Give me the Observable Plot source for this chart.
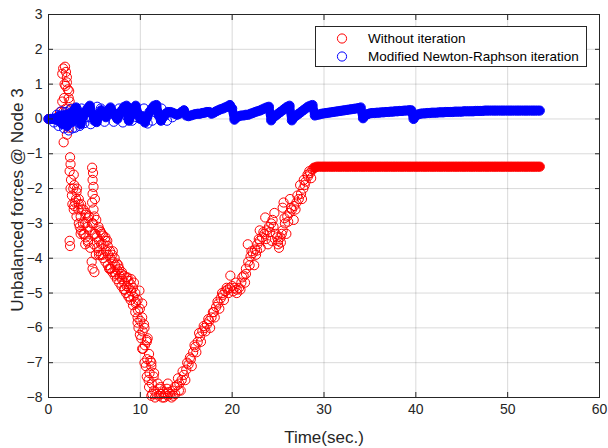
<!DOCTYPE html>
<html><head><meta charset="utf-8">
<script src="https://cdn.jsdelivr.net/npm/d3@7"></script>
<script src="https://cdn.jsdelivr.net/npm/@observablehq/plot@0.6"></script>
<style>
body{margin:0;background:#fff;}
#wrap{position:relative;width:608px;height:448px;font-family:Arial,"Liberation Sans",Helvetica,sans-serif;}
#legend{position:absolute;left:315px;top:26px;}
</style></head>
<body><div id="wrap"></div>
<script>
const xTicks = [0,10,20,30,40,50,60];
const yTicks = [-8,-7,-6,-5,-4,-3,-2,-1,0,1,2,3];
const seriesNames = ["Without iteration","Modified Newton-Raphson iteration"];
const step = 0.25; // sampling interval of the listed values (sec.)

const blueV = [0,0,0,0.02, -0.05,0.1,-0.15,0.12, -0.2,0.15,-0.1,0.25, 0.33,0.1,-0.15,0.05,
0.2,0.3,0.38,0.15, -0.05,-0.09,0.1,0.25, 0.15,0.05,0.2,0.33, 0.2,0.1,0,0.15,
0.25,0.35,0.38,-0.05, 0.1,0.3,0.38,0.15, 0,0.08,-0.1,0.05, 0.2,0.3,0.38,0.4,
0.1,-0.05,0.05,0.15, 0.2,0.2,0.18,0.15, 0.12,0.15,0.2,0.25, 0.1,0.08,0.1,0.12,
0.14,0.15,0.15,0.17, 0.18,0.2,0.2,0.15, 0.18,0.22,0.25,0.28, 0.3,0.33,0.36,0.4,
0.3,-0.02,0.05,0.08, 0.1,0.1,0.12,0.12, 0.15,0.17,0.2,0.22, 0.24,0.27,0.3,0.33,
0.35,-0.04,0.05,0.1, 0.15,0.2,0.25,0.3, 0.35,0.38,-0.04,0.05, 0.1,0.15,0.2,0.25,
0.3,0.35,0.38,0.4, 0.1,0.12,0.13,0.15, 0.16,0.17,0.18,0.19, 0.2,0.21,0.22,0.23,
0.24,0.25,0.26,0.27, 0.28,0.29,0.3,0.31, 0.33,0.02,0.1,0.14, 0.16,0.17,0.17,0.18,
0.18,0.19,0.19,0.2, 0.2,0.21,0.21,0.22, 0.22,0.23,0.23,0.24, 0.24,0.25,0.25,0,
0.1,0.13,0.15,0.16, 0.16,0.17,0.17,0.18, 0.18,0.18,0.19,0.19, 0.19,0.2,0.2,0.2,
0.2,0.21,0.21,0.21, 0.21,0.22,0.22,0.22, 0.22,0.22,0.23,0.23, 0.23,0.23,0.24,0.24,
0.24,0.24,0.24,0.24, 0.24,0.24,0.24,0.24, 0.24,0.24,0.24,0.24, 0.24,0.24,0.24,0.24,
0.24,0.24,0.24,0.24, 0.24,0.24,0.24];

const redV = [0,0,0,0, 0.05,0.2,0.5,1.0, 1.2,0.8,0.3,-1.6, -2.3,-2.6,-2.8,-3.0,
-3.0,-3.1,-3.2,-3.0, -3.3,-3.4,-3.5,-3.6, -3.6,-3.8,-3.9,-4.0, -4.1,-4.2,-4.35,-4.5,
-4.6,-4.7,-4.8,-4.85, -4.95,-5.1,-5.25,-5.5, -5.8,-6.1,-6.5,-6.9, -7.3,-7.6,-7.8,-7.9,
-7.95,-7.9,-7.85,-7.9, -7.95,-7.9,-7.8,-7.7, -7.65,-7.6,-7.5,-7.35, -7.2,-7.05,-6.9,-6.7,
-6.55,-6.4,-6.25,-6.1, -6.0,-5.9,-5.8,-5.7, -5.55,-5.4,-5.3,-5.15, -5.05,-4.95,-4.9,-4.85,
-4.8,-4.85,-4.9,-4.85, -4.7,-4.5,-4.3,-4.1, -3.95,-3.85,-3.75,-3.6, -3.5,-3.4,-3.3,-3.2,
-3.1,-3.0,-3.1,-3.3, -3.5,-3.4,-3.2,-3.0, -2.8,-2.7,-2.6,-2.5, -2.4,-2.3,-2.15,-2.0,
-1.8,-1.65,-1.55,-1.45, -1.4,
-1.37,-1.37,-1.37,-1.37,-1.37,-1.37,-1.37,-1.37,-1.37,-1.37,-1.37,-1.37,-1.37,-1.37,
-1.37,-1.37,-1.37,-1.37,-1.37,-1.37,-1.37,-1.37,-1.37,-1.37,-1.37,-1.37,-1.37,-1.37,
-1.37,-1.37,-1.37,-1.37,-1.37,-1.37,-1.37,-1.37,-1.37,-1.37,-1.37,-1.37,-1.37,-1.37,
-1.37,-1.37,-1.37,-1.37,-1.37,-1.37,-1.37,-1.37,-1.37,-1.37,-1.37,-1.37,-1.37,-1.37,
-1.37,-1.37,-1.37,-1.37,-1.37,-1.37,-1.37,-1.37,-1.37,-1.37,-1.37,-1.37,-1.37,-1.37,
-1.37,-1.37,-1.37,-1.37,-1.37,-1.37,-1.37,-1.37,-1.37,-1.37,-1.37,-1.37,-1.37,-1.37,
-1.37,-1.37,-1.37,-1.37,-1.37,-1.37,-1.37,-1.37,-1.37,-1.37,-1.37,-1.37,-1.37,-1.37];

// extra scattered samples (noisy stretches)
const redExtraT = [1.5,1.6,1.8,1.9,2.0,1.85,2.1,2.2,2.3,1.7,1.6,1.9,2.0,1.65,2.0,2.2,2.35,2.4,2.3,2.45,2.4,2.55,2.6,2.75,2.3,2.35,2.9,3.1,2.7,
3.3,3.6,3.9,4.1,4.3,3.4,5.6,5.9,6.2,6.6,7.0,7.3,3.5,4.0,4.4,5.5,5.8,6.4,6.8,7.2,7.6,8.0,8.3,8.8,9.3,9.8,10.3,10.8,11.2,
4.75,4.85,4.8,4.9,4.8,4.75,4.9,5.0,4.85,5.1,4.95,5.15,4.7,4.8,5.0,5.3,5.2,5.05,
8.6,9.0,9.5,9.9,9.7,10.2,10.4,10.1,10.7,10.6,10.9,11.1,
11.3,11.6,11.9,12.2,12.6,13.0,13.4,13.8,14.2,11.5,
19.8,20.5,21.5,21.7,22.7,22.4,23.0,23.6,23.9,24.3,24.6,25.0,25.3,25.5,25.6,25.9,26.3,26.7,27.4,27.8,28.2];
const redExtraV = [1.3,1.45,1.5,1.35,1.05,0.95,0.85,0.6,0.5,0.6,0.2,0.3,-0.1,-0.67,-0.45,-0.25,-1.1,-1.3,-1.5,-1.75,-2.0,-2.2,-2.45,-2.6,-3.5,-3.65,-2.4,-2.0,-2.0,
-2.45,-2.6,-3.3,-2.7,-3.5,-3.1,-3.2,-3.9,-3.4,-4.3,-3.8,-4.45,-3.3,-3.6,-2.8,-3.9,-3.3,-3.5,-4.3,-4.4,-4.2,-4.4,-4.9,-5.1,-4.7,-6.0,-6.6,-6.3,-7.0,
-1.4,-1.55,-1.75,-1.95,-2.15,-2.4,-2.6,-2.8,-3.0,-3.3,-3.6,-3.9,-4.1,-4.3,-4.4,-3.7,-2.9,-2.3,
-4.55,-4.6,-5.3,-4.93,-5.7,-5.3,-5.9,-6.3,-6.4,-7.1,-7.5,-6.95,
-7.9,-8.0,-7.6,-7.7,-8.0,-7.6,-8.0,-7.9,-7.8,-7.3,
-4.5,-5.0,-4.45,-3.6,-3.78,-4.2,-3.2,-2.83,-3.6,-3.5,-2.7,-3.6,-3.55,-2.55,-2.4,-3.3,-2.3,-2.9,-1.9,-1.75,-1.6];
// upper and lower edges of the wide falling band
const redUpperT = [2.8,3.05,3.3,3.55,3.8,4.05,4.3,5.45,5.7,5.95,6.2,6.45,6.7,6.95,7.2,7.45,7.7,7.95,8.2,8.45,8.7,8.95,9.2,9.45,9.7,9.95,10.2,10.45,10.7,10.95,11.2,11.45];
const redUpperV = [-1.9,-2.1,-2.3,-2.45,-2.6,-2.75,-2.85,-3.1,-3.25,-3.35,-3.5,-3.65,-3.8,-3.9,-4.0,-4.15,-4.3,-4.45,-4.5,-4.55,-4.65,-4.75,-4.85,-5.0,-5.2,-5.45,-5.7,-6.0,-6.35,-6.75,-7.1,-7.4];
const redLowerT = [2.8,3.05,3.3,3.55,3.8,4.05,4.3,4.55,5.45,5.7,5.95,6.2,6.45,6.7,6.95,7.2,7.45,7.7,7.95,8.2,8.45,8.7,8.95,9.2,9.45,9.7,9.95,10.2,10.45,10.7,10.95,11.2];
const redLowerV = [-2.5,-2.8,-3.0,-3.2,-3.3,-3.4,-3.55,-3.7,-3.8,-3.9,-4.0,-4.1,-4.2,-4.3,-4.4,-4.5,-4.6,-4.7,-4.8,-4.9,-5.0,-5.1,-5.2,-5.35,-5.55,-5.85,-6.2,-6.6,-7.0,-7.4,-7.7,-7.95];
// second row of samples along the V bottom and the rising side
const redRiseT = [12.1,12.4,12.9,13.1,13.6,14.1,14.4,14.6,14.9,15.1,15.4,15.6,15.9,16.1,16.4,16.6,16.9,17.1,17.4,17.6,17.9,18.1,18.4,18.6,18.9,19.1,19.4,19.6,20.1,20.4,20.9,21.1,21.4,21.9,22.1,22.6,22.9,23.1,23.4,23.7,24.1,24.4,24.9,25.1,25.4,25.7,26.1,26.4,26.9,27.1,27.6,27.9,28.4,28.6,28.9];
const redRiseV = [-7.75,-8.0,-7.75,-7.85,-7.95,-7.45,-7.8,-7.25,-7.5,-7.0,-6.85,-7.1,-6.5,-6.7,-6.15,-6.4,-5.95,-6.1,-5.75,-6.0,-5.55,-5.7,-5.25,-5.45,-5.0,-5.2,-4.85,-5.0,-4.95,-4.7,-4.9,-4.55,-4.7,-4.2,-3.8,-3.9,-3.45,-3.7,-3.25,-3.45,-3.25,-2.9,-3.4,-3.7,-3.3,-2.85,-2.95,-2.55,-2.6,-2.2,-2.3,-1.9,-1.5,-1.7,-1.4];

const blueExtraT = [0.6,0.9,1.1,1.4,1.7,1.9,2.2,2.4,2.6,2.9,3.1,3.4,3.6,3.9,4.3,4.6,5.3,5.7,6.1,6.6,7.1,7.7,8.1,8.6,9.1,9.6,10.4,10.8,11.3,12.3,12.9,13.5];
const blueExtraV = [-0.1,0.12,-0.2,0.22,-0.27,0.2,-0.33,0.28,-0.27,-0.25,0.28,-0.2,0.3,-0.12,0.05,-0.15,0.35,0.3,-0.08,0.28,-0.08,0.3,-0.1,0.05,-0.05,0.05,0.3,-0.13,-0.05,0.3,-0.05,0.05];

const pairs = (T, V) => T.map((t,i)=>({t, v:V[i]}));
const redMain = redV.map((v,i)=>({t:i*step, v}));
const blueMain = blueV.map((v,i)=>({t:i*step, v}));
const red = redMain.concat(pairs(redExtraT, redExtraV), pairs(redUpperT, redUpperV), pairs(redLowerT, redLowerV), pairs(redRiseT, redRiseV));
const blue = blueMain.concat(pairs(blueExtraT, blueExtraV));

const ink = "#262626";
const RED = "#ff0000", BLUE = "#0000ff";
// densely overlapping markers read as a solid band: swept stroke under the markers
const sweep = {x:"t", y:"v", strokeWidth:9, strokeLinecap:"round", strokeLinejoin:"round"};
const chart = Plot.plot({
  width:608, height:448,
  marginLeft:48, marginRight:9, marginTop:14, marginBottom:51,
  style:{fontFamily:'Arial,"Liberation Sans",Helvetica,sans-serif', fontSize:"14px", color:ink, background:"#fff", overflow:"visible"},
  x:{domain:[0,60]},
  y:{domain:[-8,3]},
  marks:[
    Plot.gridX(xTicks, {stroke:"#000", strokeOpacity:0.15, strokeWidth:1}),
    Plot.gridY(yTicks, {stroke:"#000", strokeOpacity:0.15, strokeWidth:1}),
    Plot.line(redMain.filter(d => d.t >= 29), {...sweep, stroke:RED}),
    Plot.dot(red, {x:"t", y:"v", r:4.6, stroke:RED, strokeWidth:1}),
    Plot.line(blueMain, {...sweep, stroke:BLUE}),
    Plot.dot(blue, {x:"t", y:"v", r:4.6, stroke:BLUE, strokeWidth:1}),
    Plot.frame({stroke:ink, strokeWidth:1}),
    Plot.axisX(xTicks, {anchor:"bottom", tickSize:-5, tickFormat:()=>"", label:null, stroke:ink}),
    Plot.axisX(xTicks, {anchor:"top", tickSize:-5, tickFormat:()=>"", label:null, stroke:ink}),
    Plot.axisY(yTicks, {anchor:"left", tickSize:-5, tickFormat:()=>"", label:null, stroke:ink}),
    Plot.axisY(yTicks, {anchor:"right", tickSize:-5, tickFormat:()=>"", label:null, stroke:ink}),
    Plot.axisX(xTicks, {anchor:"bottom", tickSize:0, tickPadding:7, label:null, fill:ink}),
    Plot.axisY(yTicks, {anchor:"left", tickSize:0, tickPadding:6, label:null, fill:ink}),
    Plot.text(["Time(sec.)"], {frameAnchor:"bottom", dy:40, lineAnchor:"middle", textAnchor:"middle", fontSize:17, fill:ink}),
    Plot.text(["Unbalanced forces @ Node 3"], {frameAnchor:"left", dx:-31, dy:-6, rotate:-90, textAnchor:"middle", lineAnchor:"middle", fontSize:17, fill:ink})
  ]
});
const wrap = document.getElementById("wrap");
wrap.appendChild(chart);

// legend box
const ns = "http://www.w3.org/2000/svg";
const lg = document.createElementNS(ns, "svg");
lg.setAttribute("id","legend");
lg.setAttribute("width", 273); lg.setAttribute("height", 42);
const colors = [RED, BLUE];
let html = `<rect x="0.5" y="0.5" width="271" height="40" fill="#fff" stroke="${ink}" stroke-width="1"/>`;
seriesNames.forEach((name,i)=>{
  const cy = 12.5 + i*18;
  html += `<circle cx="27" cy="${cy}" r="4.6" fill="none" stroke="${colors[i]}" stroke-width="1"/>`;
  html += `<text x="53" y="${cy}" dy="0.35em" font-size="13.5" fill="#000" font-family='Arial,"Liberation Sans",Helvetica,sans-serif'>${name}</text>`;
});
lg.innerHTML = html;
wrap.appendChild(lg);
</script>
</body></html>
